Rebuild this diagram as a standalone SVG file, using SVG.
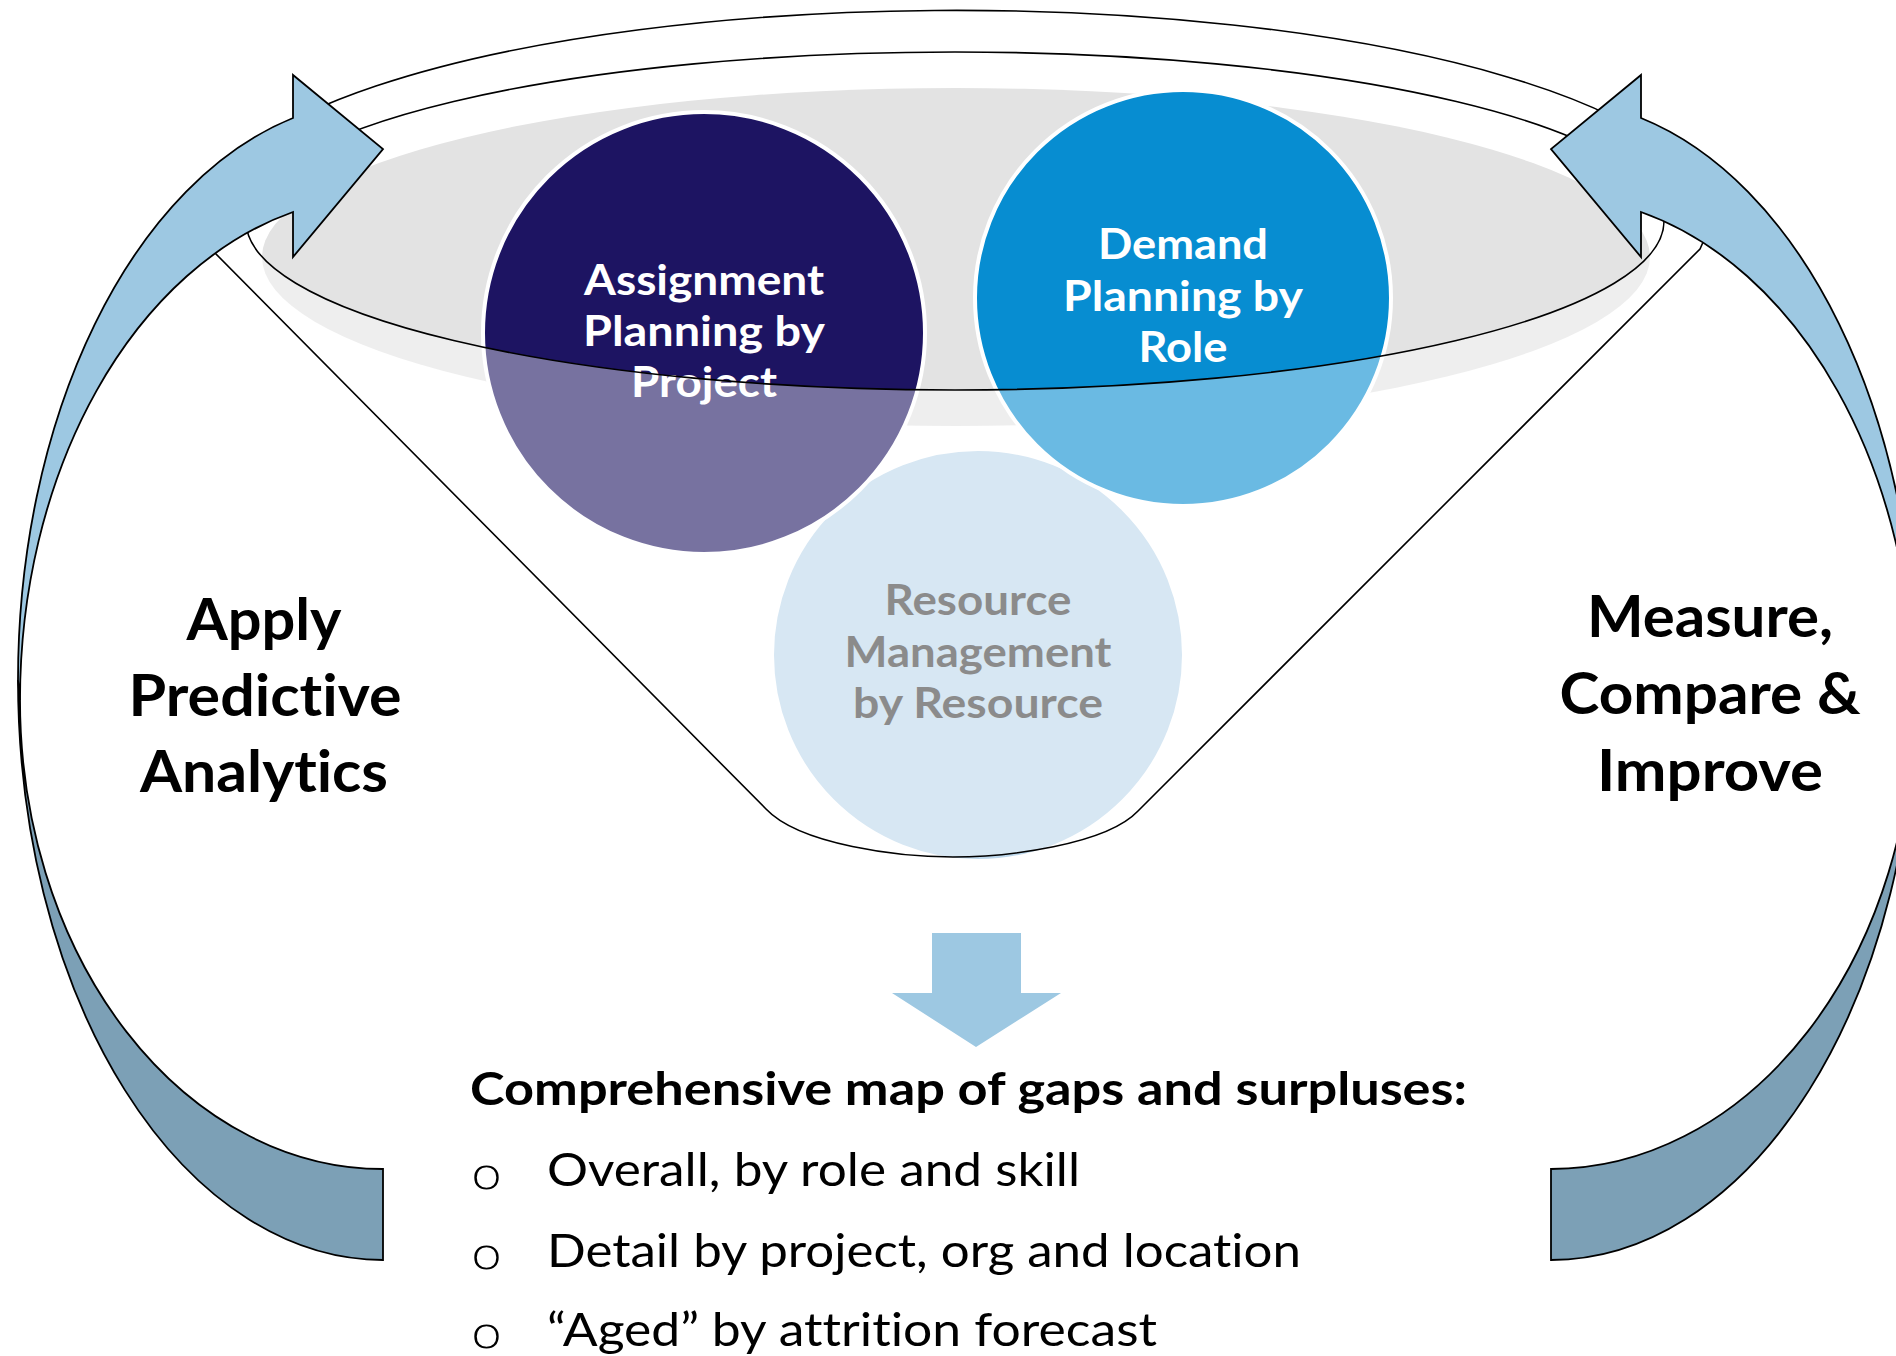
<svg xmlns="http://www.w3.org/2000/svg" xmlns:xlink="http://www.w3.org/1999/xlink" width="1896" height="1356" viewBox="0 0 1896 1356">
  <style>
    text { font-variant-ligatures: none; font-feature-settings: "liga" 0, "clig" 0; }
    .circle { stroke: #ffffff; stroke-width: 4; }
    .ctext { font-family: Lato, "Open Sans", "Liberation Sans", sans-serif; font-weight: 700; font-size: 42.5px; text-anchor: middle; }
    .side { font-family: Lato, "Open Sans", "Liberation Sans", sans-serif; font-weight: 700; font-size: 57px; text-anchor: middle; fill: #000000; }
    .head { font-family: Lato, "Open Sans", "Liberation Sans", sans-serif; font-weight: 700; font-size: 46px; fill: #000000; }
    .item { font-family: Lato, "Open Sans", "Liberation Sans", sans-serif; font-weight: 400; font-size: 46px; fill: #000000; }
    .bullet { font-family: "DejaVu Sans", "Liberation Sans", sans-serif; font-weight: 200; font-size: 43px; fill: #000000; }
    .outline { fill: none; stroke: #000000; stroke-width: 1.6; }
    .arrow-front { fill: #9dc8e2; stroke: #000000; stroke-width: 1.8; stroke-linejoin: miter; }
    .arrow-back { fill: #7ca0b6; stroke: #000000; stroke-width: 1.8; }
  </style>
  <defs>
    <!-- curved feedback arrow: back face (dark) and front face with head (light) -->
    <g id="curvedArrow">
      <path class="arrow-back" d="M 383,1260 A 365 580 0 0 1 18,680 L 20,700 A 363 469 0 0 0 383,1169 Z"/>
      <path class="arrow-front" d="M 20,700 A 363 504 0 0 1 293,212 L 293,257 L 383,149 L 293,75 L 293,118 A 365 580 0 0 0 18,680 Z"/>
    </g>
  </defs>

  <rect width="1896" height="1356" fill="#ffffff"/>

  <!-- shadow inside the funnel mouth -->
  <g id="funnel-back">
    <ellipse cx="956" cy="257" rx="694" ry="169" fill="#e3e3e3"/>
  </g>

  <g id="resource">
    <circle class="circle" cx="978" cy="655" r="206" fill="#bcd7eb"/>
    <text class="ctext" fill="#3f3f3f" x="978" y="615" textLength="187" lengthAdjust="spacingAndGlyphs">Resource</text>
    <text class="ctext" fill="#3f3f3f" x="978" y="667" textLength="267" lengthAdjust="spacingAndGlyphs">Management</text>
    <text class="ctext" fill="#3f3f3f" x="978" y="718" textLength="250" lengthAdjust="spacingAndGlyphs">by Resource</text>
  </g>

  <g id="assignment">
    <circle class="circle" cx="704" cy="333" r="221" fill="#1d1462"/>
    <text class="ctext" fill="#ffffff" x="704" y="295" textLength="240" lengthAdjust="spacingAndGlyphs">Assignment</text>
    <text class="ctext" fill="#ffffff" x="704" y="346" textLength="242" lengthAdjust="spacingAndGlyphs">Planning by</text>
    <text class="ctext" fill="#ffffff" x="704" y="397" textLength="146" lengthAdjust="spacingAndGlyphs">Project</text>
  </g>

  <g id="demand">
    <circle class="circle" cx="1183" cy="298" r="208" fill="#078dd1"/>
    <text class="ctext" fill="#ffffff" x="1183" y="259" textLength="170" lengthAdjust="spacingAndGlyphs">Demand</text>
    <text class="ctext" fill="#ffffff" x="1183" y="311" textLength="240" lengthAdjust="spacingAndGlyphs">Planning by</text>
    <text class="ctext" fill="#ffffff" x="1183" y="362" textLength="89" lengthAdjust="spacingAndGlyphs">Role</text>
  </g>

  <!-- translucent funnel body with open mouth, then its outlines -->
  <g id="funnel-front">
    <path fill="#ffffff" fill-opacity="0.4" fill-rule="evenodd"
      d="M 214,252 L 766,809 C 800,845 900,857 953,857 C 1006,857 1106,845 1138,811 L 1700,249 L 1704,240 A 752 208 0 1 0 214,252 Z
         M 246,221 A 709 169 0 1 0 1664,221 A 709 169 0 1 0 246,221 Z"/>
    <path class="outline" d="M 214,252 L 766,809 C 800,845 900,857 953,857 C 1006,857 1106,845 1138,811 L 1700,249 L 1704,240 A 752 208 0 1 0 214,252 Z"/>
    <ellipse class="outline" cx="955" cy="221" rx="709" ry="169"/>
  </g>

  <g id="connectors">
    <use id="arrow-apply" xlink:href="#curvedArrow" href="#curvedArrow"/>
    <use id="arrow-measure" xlink:href="#curvedArrow" href="#curvedArrow" transform="matrix(-1 0 0 1 1934 0)"/>
    <polygon id="arrow-down" fill="#9dc8e2" points="932,933 1021,933 1021,993 1061,993 976,1047 892,993 932,993"/>
  </g>

  <g id="apply-label">
    <text class="side" x="264" y="640" textLength="155" lengthAdjust="spacingAndGlyphs">Apply</text>
    <text class="side" x="265" y="716" textLength="273" lengthAdjust="spacingAndGlyphs">Predictive</text>
    <text class="side" x="264" y="792" textLength="248" lengthAdjust="spacingAndGlyphs">Analytics</text>
  </g>

  <g id="measure-label">
    <text class="side" x="1710" y="637" textLength="246" lengthAdjust="spacingAndGlyphs">Measure,</text>
    <text class="side" x="1710" y="714" textLength="301" lengthAdjust="spacingAndGlyphs">Compare &amp;</text>
    <text class="side" x="1710" y="791" textLength="226" lengthAdjust="spacingAndGlyphs">Improve</text>
  </g>

  <g id="summary">
    <text class="head" x="470" y="1105" textLength="997" lengthAdjust="spacingAndGlyphs">Comprehensive map of gaps and surpluses:</text>
    <text class="bullet" x="470" y="1189" textLength="33" lengthAdjust="spacingAndGlyphs">o</text>
    <text class="item" x="547" y="1186" textLength="533" lengthAdjust="spacingAndGlyphs">Overall, by role and skill</text>
    <text class="bullet" x="470" y="1269" textLength="33" lengthAdjust="spacingAndGlyphs">o</text>
    <text class="item" x="547" y="1267" textLength="754" lengthAdjust="spacingAndGlyphs">Detail by project, org and location</text>
    <text class="bullet" x="470" y="1348" textLength="33" lengthAdjust="spacingAndGlyphs">o</text>
    <text class="item" x="547" y="1346" textLength="610" lengthAdjust="spacingAndGlyphs">“Aged” by attrition forecast</text>
  </g>
</svg>
